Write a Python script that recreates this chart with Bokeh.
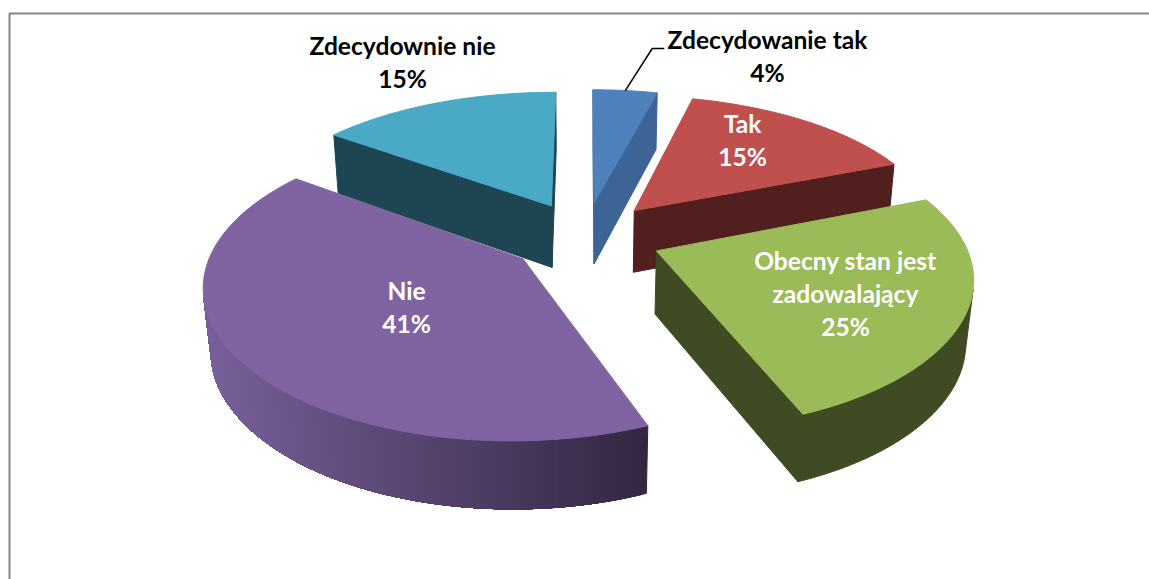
import math
from bokeh.plotting import figure
from bokeh.models import Range1d, ColumnDataSource
from bokeh.core.properties import value
from bokeh.embed import file_html
from bokeh.resources import INLINE

# ---- data ----
categories = ["Zdecydowanie tak", "Tak", "Obecny stan jest zadowalający", "Nie", "Zdecydownie nie"]
shares = [4, 15, 25, 41, 15]
label_lines = [["Zdecydowanie tak"], ["Tak"], ["Obecny stan jest", "zadowalający"], ["Nie"], ["Zdecydownie nie"]]

# ---- style ----
top_colors = ["#4f81bd", "#c0504d", "#9bbb59", "#8064a2", "#4aa9c4"]
wall_light = ["#3c6496", "#501f1e", "#3e4b23", "#79609b", "#1d4552"]
wall_dark = ["#3c6496", "#501f1e", "#3e4b23", "#332742", "#1d4552"]
text_colors = ["#000000", "#ffffff", "#ffffff", "#ffffff", "#000000"]
label_xy = [(767, 39), (742, 123), (845, 260), (406, 290), (402, 45)]
line_step = 33
paint_order = [4, 0, 1, 3, 2]

CX, CY = 584.5, 236.0   # pie centre on the page
A, B = 306.5, 142.5     # horizontal / vertical scale of the disc
UX, UY = 0.155, 0.17    # perspective strength
H = 65.0                # drop of the lower disc
KX, KY = 0.02, 0.038    # shrink of the lower disc
EXPLODE = 0.25
FONT_PX = "24.6px"
W, HT = 1149, 579


def project(x, y, low=False):
    return (CX + A * x / (1 - UX * y + (KX if low else 0)),
            CY + (B * y + (H if low else 0)) / (1 - UY * y + (KY if low else 0)))


def direction(frac):
    ang = 2 * math.pi * frac
    return math.sin(ang), -math.cos(ang)


def lerp_color(c0, c1, t):
    a = [int(c0[i:i + 2], 16) for i in (1, 3, 5)]
    b = [int(c1[i:i + 2], 16) for i in (1, 3, 5)]
    return "#%02x%02x%02x" % tuple(round(p + (q - p) * t) for p, q in zip(a, b))


def faces_viewer(a, b):
    q = [project(*a), project(*b), project(*b, low=True), project(*a, low=True)]
    return sum(q[m][0] * q[(m + 1) % 4][1] - q[(m + 1) % 4][0] * q[m][1] for m in range(4)) < 0


total = sum(shares)
starts = [sum(shares[:i]) / total for i in range(len(shares))]
ends = [sum(shares[:i + 1]) / total for i in range(len(shares))]

xs, ys, fills = [], [], []


def add(poly, color):
    xs.append([q[0] for q in poly])
    ys.append([q[1] for q in poly])
    fills.append(color)


rim_anchor = None
for i in paint_order:
    f0, f1 = starts[i], ends[i]
    dx, dy = direction((f0 + f1) / 2)
    ox, oy = dx * EXPLODE, dy * EXPLODE
    steps = max(6, int((f1 - f0) * 400))
    rim = []
    for s in range(steps + 1):
        ux, uy = direction(f0 + (f1 - f0) * s / steps)
        rim.append((ox + ux, oy + uy))
    apex = (ox, oy)

    # flat cut walls
    for a, b in ((apex, rim[0]), (rim[-1], apex)):
        if faces_viewer(a, b):
            add([project(*a), project(*b), project(*b, low=True), project(*a, low=True)], wall_dark[i])

    # curved wall: nested bands, each painted over the one before, so no seam shows
    vis = [j for j in range(steps) if faces_viewer(rim[j], rim[j + 1])]
    if vis:
        j0, j1 = vis[0], vis[-1] + 1
        rx = [project(*q)[0] for q in rim[j0:j1 + 1]]
        xmin, xmax = min(rx), max(rx)
        band_starts = [j0] if wall_light[i] == wall_dark[i] else range(j0, j1)
        for j in band_starts:
            part = rim[j:j1 + 1]
            poly = [project(*q) for q in part] + [project(*q, low=True) for q in reversed(part)]
            t = (project(*rim[j])[0] - xmin) / (xmax - xmin)
            add(poly, lerp_color(wall_light[i], wall_dark[i], t))

    add([project(*q) for q in [apex] + rim], top_colors[i])
    if i == 0:
        rim_anchor = project(*rim[steps // 2])

p = figure(width=W, height=HT, x_range=Range1d(0, W), y_range=Range1d(HT, 0),
           output_backend="svg", toolbar_location=None, min_border=0,
           background_fill_color="#ffffff", border_fill_color="#ffffff", outline_line_color=None)
p.axis.visible = False
p.grid.visible = False

# chart frame, cut by the page edge
p.line([9, 9, W], [HT, 13, 13], line_color="#868686", line_width=2)

p.patches("x", "y", source=ColumnDataSource(dict(x=xs, y=ys, c=fills)),
          fill_color="c", line_color="c", line_width=1)

# leader line of the small slice
p.line([rim_anchor[0], rim_anchor[0] + 27, rim_anchor[0] + 39],
       [rim_anchor[1], 48, 48], line_color="#000000", line_width=1.5)

tx, ty, tt, tc = [], [], [], []
for i, lines in enumerate(label_lines):
    x0, y0 = label_xy[i]
    for k, s in enumerate(lines + [f"{shares[i]}%"]):
        tx.append(x0)
        ty.append(y0 + k * line_step)
        tt.append(s)
        tc.append(text_colors[i])
p.text("x", "y", text="t", source=ColumnDataSource(dict(x=tx, y=ty, t=tt, c=tc)),
       text_color="c", text_font=value("Lato"), text_font_style="bold",
       text_font_size=FONT_PX, text_align="center", text_baseline="middle")

open("out.html", "w").write(file_html(p, INLINE))
